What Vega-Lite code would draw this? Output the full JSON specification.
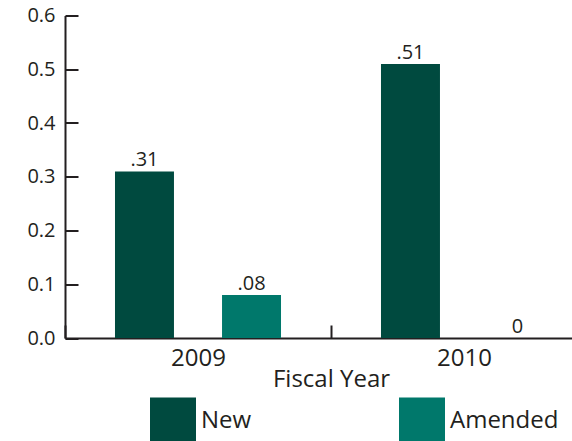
{
  "$schema": "https://vega.github.io/schema/vega-lite/v6.json",
  "width": 532,
  "height": 322.5,
  "autosize": {"type": "none"},
  "padding": {"left": 65, "top": 15.5, "right": 0, "bottom": 103},
  "background": "white",
  "config": {"view": {"stroke": null}, "font": "Open Sans"},
  "data": {"values": [
    {"year": "2009", "type": "New", "value": 0.31, "label": ".31"},
    {"year": "2009", "type": "Amended", "value": 0.08, "label": ".08"},
    {"year": "2010", "type": "New", "value": 0.51, "label": ".51"},
    {"year": "2010", "type": "Amended", "value": 0, "label": "0"}
  ]},
  "encoding": {
    "x": {
      "field": "year", "type": "nominal",
      "scale": {"paddingInner": 0, "paddingOuter": 0},
      "axis": {
        "title": "Fiscal Year", "labelAngle": 0, "tickBand": "extent",
        "tickSize": -13, "tickWidth": 2, "tickColor": "#231f20",
        "domainColor": "#231f20", "domainWidth": 2,
        "labelFontSize": 24, "labelColor": "#231f20", "labelPadding": 21,
        "titleFontSize": 24, "titleFontWeight": "normal", "titleColor": "#231f20",
        "titlePadding": -3
      }
    },
    "xOffset": {
      "field": "type", "type": "nominal", "sort": ["New", "Amended"],
      "scale": {"paddingInner": 0.449, "paddingOuter": 0.467}
    },
    "y": {
      "field": "value", "type": "quantitative",
      "scale": {"domain": [0, 0.6], "nice": false},
      "axis": {
        "title": null, "values": [0, 0.1, 0.2, 0.3, 0.4, 0.5, 0.6], "format": ".1f",
        "grid": false, "tickSize": -13, "tickWidth": 2, "tickColor": "#231f20",
        "domainColor": "#231f20", "domainWidth": 2,
        "labelFontSize": 20, "labelColor": "#231f20", "labelPadding": 23
      }
    }
  },
  "layer": [
    {
      "mark": {"type": "bar"},
      "encoding": {
        "color": {
          "field": "type", "type": "nominal", "sort": ["New", "Amended"],
          "scale": {"domain": ["New", "Amended"], "range": ["#004a3f", "#00786b"]},
          "legend": {
            "title": null, "orient": "none", "legendX": 85, "legendY": 382,
            "direction": "horizontal", "columns": 2, "symbolType": "square",
            "symbolSize": 2116, "symbolStrokeWidth": 0, "labelFontSize": 24,
            "labelColor": "#231f20", "labelOffset": 5, "columnPadding": 147,
            "padding": 0
          }
        }
      }
    },
    {
      "mark": {"type": "text", "dy": -5, "baseline": "alphabetic", "align": "center", "fontSize": 20, "color": "#231f20"},
      "encoding": {"text": {"field": "label"}}
    }
  ]
}
